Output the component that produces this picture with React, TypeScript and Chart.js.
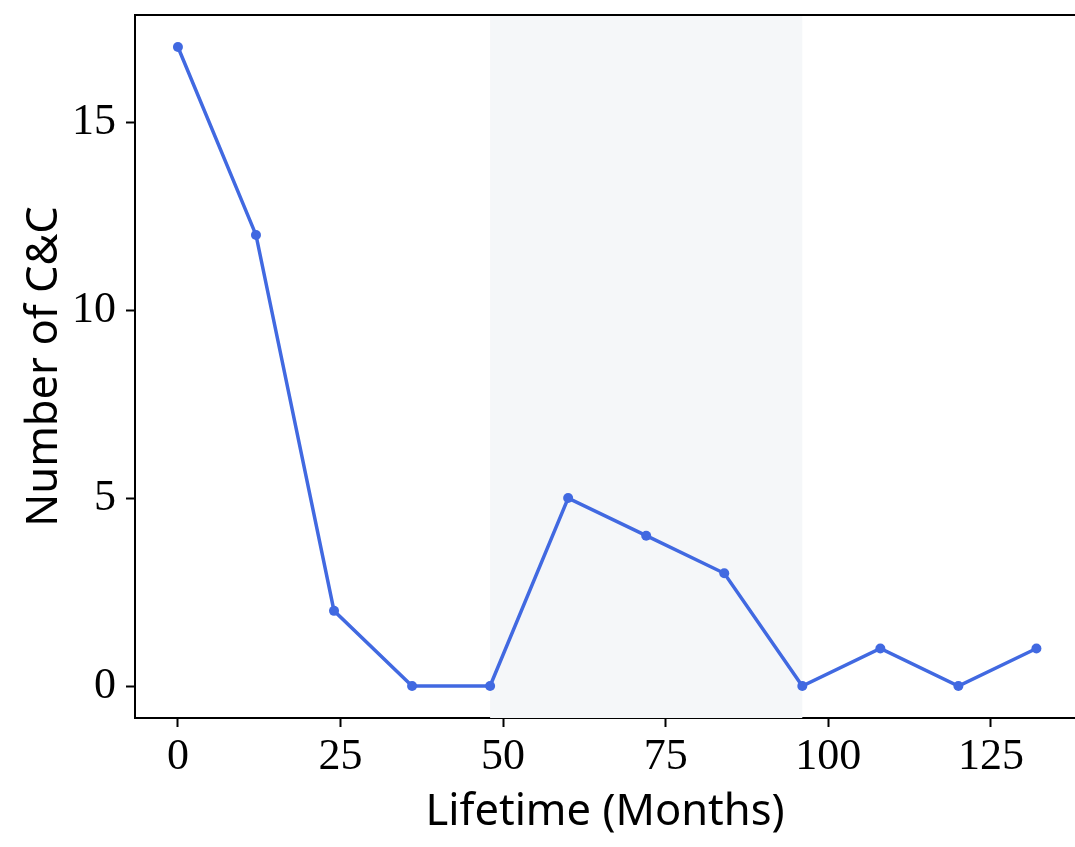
import React, { useEffect, useRef } from "react";
import { Chart, registerables } from "chart.js";

Chart.register(...registerables);

const months = [0, 12, 24, 36, 48, 60, 72, 84, 96, 108, 120, 132];
const counts = [17, 12, 2, 0, 0, 5, 4, 3, 0, 1, 0, 1];
const xTicks = [0, 25, 50, 75, 100, 125];
const yTicks = [0, 5, 10, 15];
const shadeStart = 48;
const shadeEnd = 96;

const tickFont = { family: "'Liberation Serif', 'DejaVu Serif', serif", size: 44 };
const titleFont = { family: "'Noto Sans', 'Open Sans', sans-serif", size: 43.5 };

const shadePlugin = {
  id: "shade",
  beforeDatasetsDraw(chart: any) {
    const { ctx, chartArea, scales } = chart;
    const x0 = scales.x.getPixelForValue(shadeStart);
    const x1 = scales.x.getPixelForValue(shadeEnd);
    ctx.save();
    ctx.fillStyle = "#f5f7f9";
    ctx.fillRect(x0, chartArea.top, x1 - x0, chartArea.bottom - chartArea.top);
    ctx.restore();
  },
};

const framePlugin = {
  id: "frame",
  afterDatasetsDraw(chart: any) {
    const { ctx, chartArea } = chart;
    ctx.save();
    ctx.strokeStyle = "#000";
    ctx.lineWidth = 2;
    ctx.beginPath();
    ctx.moveTo(chartArea.left - 1, chartArea.top);
    ctx.lineTo(chartArea.right + 5, chartArea.top);
    ctx.stroke();
    ctx.restore();
  },
};

const noPad = (s: any) => {
  s.paddingTop = 0;
  s.paddingBottom = 0;
  s.paddingLeft = 0;
  s.paddingRight = 0;
};

export default function App() {
  const ref = useRef<HTMLCanvasElement | null>(null);
  useEffect(() => {
    document.body.style.margin = "0";
    const canvas = ref.current!;
    const chart = new Chart(canvas, {
      type: "line",
      data: {
        datasets: [
          {
            data: months.map((m, i) => ({ x: m, y: counts[i] })),
            borderColor: "#4169e1",
            backgroundColor: "#4169e1",
            borderWidth: 3.5,
            pointRadius: 5,
            pointHoverRadius: 5,
            pointBorderWidth: 0,
            tension: 0,
            clip: false,
          },
        ],
      },
      options: {
        responsive: false,
        animation: false,
        events: [],
        layout: { autoPadding: false, padding: { top: 15, right: 0, bottom: 0, left: 0 } },
        plugins: { legend: { display: false }, tooltip: { enabled: false } },
        scales: {
          x: {
            type: "linear",
            min: -6.6,
            max: 137.93,
            afterBuildTicks: (s: any) => {
              s.ticks = xTicks.map((v) => ({ value: v }));
            },
            afterFit: (s: any) => {
              s.height = 129;
              noPad(s);
            },
            grid: { drawOnChartArea: false, drawTicks: true, tickLength: 9, tickWidth: 2, tickColor: "#000" },
            border: { display: true, color: "#000", width: 2 },
            ticks: { font: tickFont, color: "#000", padding: 4, maxRotation: 0, autoSkip: false },
            title: { display: true, text: "Lifetime (Months)", font: titleFont, color: "#000", padding: { top: 0, bottom: 8 } },
          },
          y: {
            type: "linear",
            min: -0.85,
            max: 17.85,
            afterBuildTicks: (s: any) => {
              s.ticks = yTicks.map((v) => ({ value: v }));
            },
            afterFit: (s: any) => {
              s.width = 135;
              noPad(s);
            },
            grid: { drawOnChartArea: false, drawTicks: true, tickLength: 9, tickWidth: 2, tickColor: "#000" },
            border: { display: true, color: "#000", width: 2 },
            ticks: { font: tickFont, color: "#000", padding: 10, autoSkip: false },
            title: { display: true, text: "Number of C&C", font: titleFont, color: "#000", padding: { top: 19, bottom: 0 } },
          },
        },
      },
      plugins: [shadePlugin, framePlugin],
    } as any);
    return () => chart.destroy();
  }, []);
  return (
    <div style={{ width: 1075, height: 847, overflow: "hidden", position: "relative" }}>
      <canvas ref={ref} width={1075} height={847} style={{ display: "block" }} />
    </div>
  );
}
